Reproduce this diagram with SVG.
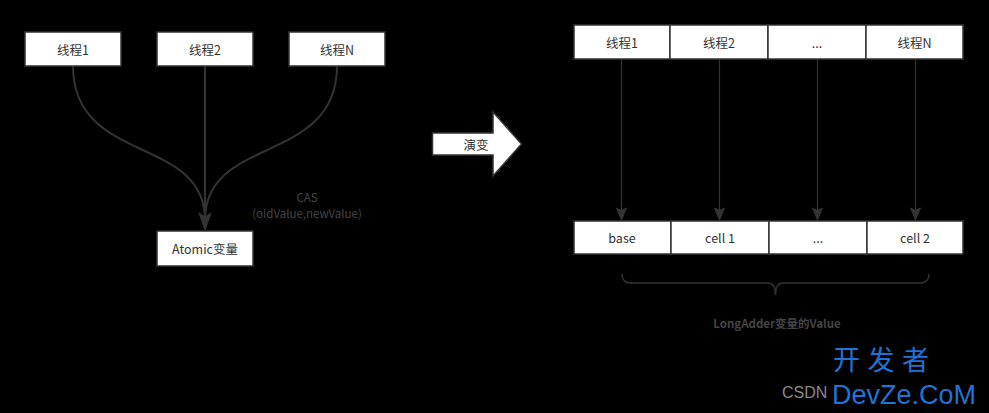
<svg xmlns="http://www.w3.org/2000/svg" width="989" height="413" viewBox="0 0 989 413">
<defs>
<style>
.box{fill:#ffffff;stroke:#333333;stroke-width:1.5}
.t{font-family:"Microsoft YaHei","Noto Sans CJK SC",sans-serif;font-size:12.5px;fill:#333333;text-anchor:middle;dominant-baseline:central}
.lbl{font-family:"Microsoft YaHei","Noto Sans CJK SC",sans-serif;font-size:11.5px;fill:#444444;text-anchor:middle;dominant-baseline:central}
.edge{fill:none;stroke:#333333}
.head{fill:#333333;stroke:#333333;stroke-width:1}
.wm{font-family:"Liberation Sans","Noto Sans CJK SC",sans-serif;fill:#1f73d6;text-anchor:start}
</style>
</defs>
<rect x="0" y="0" width="989" height="413" fill="#000000"/>

<g id="connectors">
<path class="edge" stroke-width="2" d="M73,66 C73,165 205,135 205,220"/>
<path class="edge" stroke-width="2" d="M205,66 L205,220"/>
<path class="edge" stroke-width="2" d="M337,66 C337,165 205,135 205,220"/>
<path class="head" d="M205,230 L199,213 L205,217 L211,213 Z"/>
<path class="edge" stroke-width="1.2" d="M621.5,59 L621.5,212"/>
<path class="edge" stroke-width="1.2" d="M719.5,59 L719.5,212"/>
<path class="edge" stroke-width="1.2" d="M817.5,59 L817.5,212"/>
<path class="edge" stroke-width="1.2" d="M915.5,59 L915.5,212"/>
<path class="head" d="M621.5,220 L616.5,208 L621.5,210.5 L626.5,208 Z"/>
<path class="head" d="M719.5,220 L714.5,208 L719.5,210.5 L724.5,208 Z"/>
<path class="head" d="M817.5,220 L812.5,208 L817.5,210.5 L822.5,208 Z"/>
<path class="head" d="M915.5,220 L910.5,208 L915.5,210.5 L920.5,208 Z"/>
<path class="edge" stroke-width="1.5" d="M622,274 Q622,283 631,283 L768,283 Q775.5,283 775.5,295 Q775.5,283 783,283 L920,283 Q929,283 929,274"/>
</g>

<g id="thread1"><rect class="box" x="25" y="32" width="96" height="34"/><text class="t" x="73" y="49">线程1</text></g>
<g id="thread2"><rect class="box" x="157" y="32" width="96" height="34"/><text class="t" x="205" y="49">线程2</text></g>
<g id="threadN"><rect class="box" x="289" y="32" width="96" height="34"/><text class="t" x="337" y="49">线程N</text></g>
<g id="atomic"><rect class="box" x="157" y="231" width="96" height="35"/><text class="t" x="205" y="248.5">Atomic变量</text></g>
<g id="cas-label"><text class="lbl" x="307" y="197">CAS</text><text class="lbl" x="307" y="213">(oldValue,newValue)</text></g>

<g id="evolve">
<path d="M432.5,133 L493,133 L493,112 L521.5,144 L493,176 L493,155 L432.5,155 Z" fill="#ffffff" stroke="#333333" stroke-width="1.5"/>
<text class="t" x="476" y="144">演变</text>
</g>

<g id="r-thread1"><rect class="box" x="574" y="25" width="96" height="34"/><text class="t" x="622" y="42">线程1</text></g>
<g id="r-thread2"><rect class="box" x="670" y="25" width="98" height="34"/><text class="t" x="719" y="42">线程2</text></g>
<g id="r-threaddots"><rect class="box" x="768" y="25" width="98" height="34"/><text class="t" x="817" y="42">...</text></g>
<g id="r-threadN"><rect class="box" x="866" y="25" width="97" height="34"/><text class="t" x="914.5" y="42">线程N</text></g>

<g id="base"><rect class="box" x="574" y="221" width="97" height="33"/><text class="t" x="622" y="237.5">base</text></g>
<g id="cell1"><rect class="box" x="671" y="221" width="98" height="33"/><text class="t" x="720" y="237.5">cell 1</text></g>
<g id="celldots"><rect class="box" x="769" y="221" width="98" height="33"/><text class="t" x="818" y="237.5">...</text></g>
<g id="cell2"><rect class="box" x="867" y="221" width="96" height="33"/><text class="t" x="915" y="237.5">cell 2</text></g>

<g id="value-label"><text class="lbl" x="777" y="323" font-weight="bold">LongAdder变量的Value</text></g>

<g id="watermark">
<text x="782" y="398" font-family="Liberation Sans,sans-serif" font-size="16" fill="#8a8a8a">CSDN</text>
<text class="wm" x="833" y="370" font-size="27" font-family="Noto Sans CJK SC,sans-serif">开 发 者</text>
<text class="wm" x="832" y="404" font-size="27">DevZe.CoM</text>
</g>
</svg>
